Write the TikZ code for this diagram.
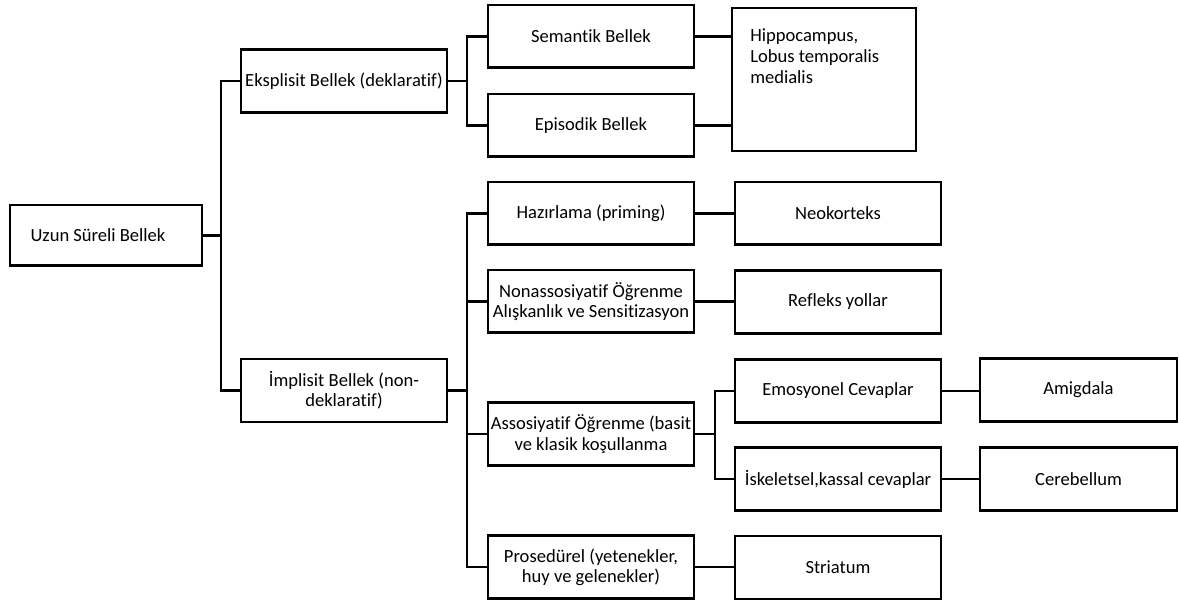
\documentclass[tikz,border=0pt]{standalone}
\usepackage{fontspec}
\setmainfont{Carlito}[RawFeature={-liga;-clig;-dlig}]
\usetikzlibrary{positioning}

\tikzset{
  kutu/.style={draw, line width=2pt, minimum width=5.15cm, minimum height=1.57cm,
    align=center, inner sep=1pt, font=\fontsize{13.2pt}{14.4pt}\selectfont},
  bag/.style={line width=1.6pt}
}

\begin{document}
\begin{tikzpicture}[x=0.025cm,y=-0.025cm]
\useasboundingbox (0,0) rectangle (1179,602);

% ana kutu
\node[kutu, minimum width=4.8cm, minimum height=1.52cm] (uzun) at (106,235.5) {\hspace*{-0.4cm}Uzun Süreli Bellek};

% ikinci seviye
\node[kutu] (eks) at (344,81) {Eksplisit Bellek (deklaratif)};
\node[kutu] (imp) at (344,390.5) {İmplisit Bellek (non-\\deklaratif)};

% eksplisit dallari
\node[kutu] (sem) at (591,36.5) {Semantik Bellek};
\node[kutu] (epi) at (591,125.5) {Episodik Bellek};
\node[kutu, minimum width=4.6cm, minimum height=3.57cm] (hip) at (824,79.5) {};
\node[anchor=north west, align=left, inner sep=0pt, font=\fontsize{13.2pt}{15pt}\selectfont]
  (hiptxt) at (750,28) {Hippocampus,\\Lobus temporalis\\medialis};

% implisit dallari
\node[kutu] (haz) at (591,213.5) {Hazırlama (priming)};
\node[kutu] (non) at (591,301.5) {Nonassosiyatif Öğrenme\\Alışkanlık ve Sensitizasyon};
\node[kutu] (aso) at (591,434) {Assosiyatif Öğrenme (basit\\ve klasik koşullanma};
\node[kutu] (pro) at (591,567) {Prosedürel (yetenekler,\\huy ve gelenekler)};

\node[kutu] (neo) at (838,213.5) {Neokorteks};
\node[kutu] (ref) at (838,302) {Refleks yollar};
\node[kutu] (emo) at (838,391) {Emosyonel Cevaplar};
\node[kutu] (isk) at (838,479) {İskeletsel,kassal cevaplar};
\node[kutu] (str) at (838,567.5) {Striatum};

\node[kutu, minimum width=4.92cm] (ami) at (1078.5,390) {Amigdala};
\node[kutu, minimum width=4.92cm] (cer) at (1078.5,479) {Cerebellum};

% baglanti noktalari
\coordinate (b1) at (221,235.5);
\coordinate (b2) at (467,81);
\coordinate (b3) at (467,390.5);
\coordinate (b4) at (715,434);

% cizgiler
\draw[bag] (uzun.east) -- (b1);
\draw[bag] (eks.west) -| (b1) |- (imp.west);

\draw[bag] (eks.east) -- (b2);
\draw[bag] (sem.west) -| (b2) |- (epi.west);
\draw[bag] (sem.east) -- (sem.east -| hip.west);
\draw[bag] (epi.east) -- (epi.east -| hip.west);

\draw[bag] (imp.east) -- (b3);
\draw[bag] (haz.west) -| (b3) |- (pro.west);
\draw[bag] (non.west) -- (non.west -| b3);
\draw[bag] (aso.west) -- (aso.west -| b3);

\draw[bag] (haz.east) -- (neo.west);
\draw[bag] (non.east) -- (non.east -| ref.west);
\draw[bag] (pro.east) -- (pro.east -| str.west);

\draw[bag] (aso.east) -- (b4);
\draw[bag] (emo.west) -| (b4) |- (isk.west);
\draw[bag] (emo.east) -- (emo.east -| ami.west);
\draw[bag] (isk.east) -- (cer.west);
\end{tikzpicture}
\end{document}
